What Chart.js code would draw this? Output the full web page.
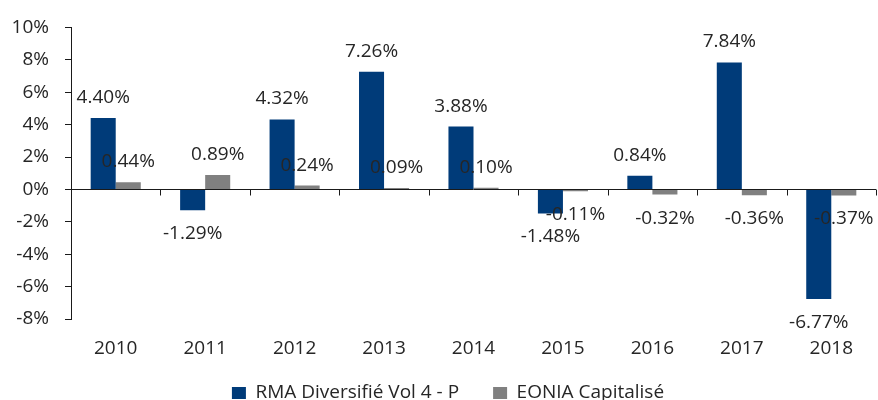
<!DOCTYPE html>
<html>
<head>
<meta charset="utf-8">
<script src="https://cdn.jsdelivr.net/npm/chart.js@4/dist/chart.umd.min.js"></script>
<style>
  html, body { margin: 0; padding: 0; background: #fff; }
  #wrap { width: 878px; height: 400px; overflow: hidden; }
</style>
</head>
<body>
<div id="wrap"><canvas id="perf" width="878" height="427"></canvas></div>
<script>
// yearly performance, in %
const years = ['2010', '2011', '2012', '2013', '2014', '2015', '2016', '2017', '2018'];
const rmaValues = [4.40, -1.29, 4.32, 7.26, 3.88, -1.48, 0.84, 7.84, -6.77];
const eoniaValues = [0.44, 0.89, 0.24, 0.09, 0.10, -0.11, -0.32, -0.36, -0.37];
const seriesNames = ['RMA Diversifié Vol 4 - P', 'EONIA Capitalisé'];

const axisColor = '#1a1a1a';
const textColor = '#262626';

Chart.defaults.font.family = "'Open Sans', sans-serif";
Chart.defaults.font.size = 19;
Chart.defaults.color = textColor;

// zero line with category tick marks (axis crosses at 0, labels stay low)
const zeroAxis = {
    id: 'zeroAxis',
    afterDatasetsDraw(chart) {
        const x = chart.scales.x, y = chart.scales.y;
        const y0 = Math.round(y.getPixelForValue(0)) + 0.5;
        const step = x.getPixelForValue(1) - x.getPixelForValue(0);
        const ctx = chart.ctx;
        ctx.save();
        ctx.strokeStyle = axisColor;
        ctx.lineWidth = 1;
        ctx.beginPath();
        ctx.moveTo(chart.chartArea.left, y0);
        ctx.lineTo(chart.chartArea.right, y0);
        for (let i = 0; i <= years.length; i++) {
            const bx = Math.round(x.getPixelForValue(i) - step / 2) + 0.5;
            ctx.moveTo(bx, y0);
            ctx.lineTo(bx, y0 + 6);
        }
        ctx.stroke();
        ctx.restore();
    }
};

// value labels outside the bar ends
const valueLabels = {
    id: 'valueLabels',
    afterDatasetsDraw(chart) {
        const ctx = chart.ctx;
        ctx.save();
        ctx.font = "19px 'Open Sans', sans-serif";
        ctx.fillStyle = textColor;
        ctx.textAlign = 'center';
        ctx.textBaseline = 'alphabetic';
        chart.data.datasets.forEach((ds, di) => {
            chart.getDatasetMeta(di).data.forEach((bar, i) => {
                const v = ds.data[i];
                const txt = v.toFixed(2) + '%';
                const ty = v >= 0 ? bar.y - 15 : bar.y + 29;
                ctx.fillText(txt, bar.x, ty);
            });
        });
        ctx.restore();
    }
};

// nudge the legend a bit up and right, closer to the x labels like the original
const legendNudge = {
    id: 'legendNudge',
    afterLayout(chart) {
        const lg = chart.legend;
        lg.top -= 14.5; lg.bottom -= 14.5;
        lg.left += 10; lg.right += 10;
    }
};

new Chart(document.getElementById('perf'), {
    type: 'bar',
    data: {
        labels: years,
        datasets: [{
            label: seriesNames[0],
            data: rmaValues,
            backgroundColor: '#003B79'
        }, {
            label: seriesNames[1],
            data: eoniaValues,
            backgroundColor: '#808080'
        }]
    },
    options: {
        responsive: false,
        animation: false,
        devicePixelRatio: 1,
        barPercentage: 1,
        categoryPercentage: 0.56,
        layout: { padding: { left: 0, right: 2, top: 24, bottom: 0 } },
        plugins: {
            tooltip: { enabled: false },
            legend: {
                position: 'bottom',
                labels: {
                    boxWidth: 14,
                    boxHeight: 12,
                    padding: 34,
                    font: { size: 19 },
                    color: textColor
                }
            }
        },
        scales: {
            x: {
                grid: { display: false },
                border: { display: false },
                ticks: { padding: 10, maxRotation: 0 },
                afterFit(scale) { scale.height = 45; }
            },
            y: {
                min: -8,
                max: 10,
                ticks: {
                    stepSize: 2,
                    padding: 16,
                    callback: v => v + '%'
                },
                grid: {
                    drawOnChartArea: false,
                    drawTicks: true,
                    tickLength: 6,
                    color: axisColor
                },
                border: { display: true, color: axisColor },
                afterFit(scale) { scale.width = 71; }
            }
        }
    },
    plugins: [zeroAxis, valueLabels, legendNudge]
});
</script>
</body>
</html>
